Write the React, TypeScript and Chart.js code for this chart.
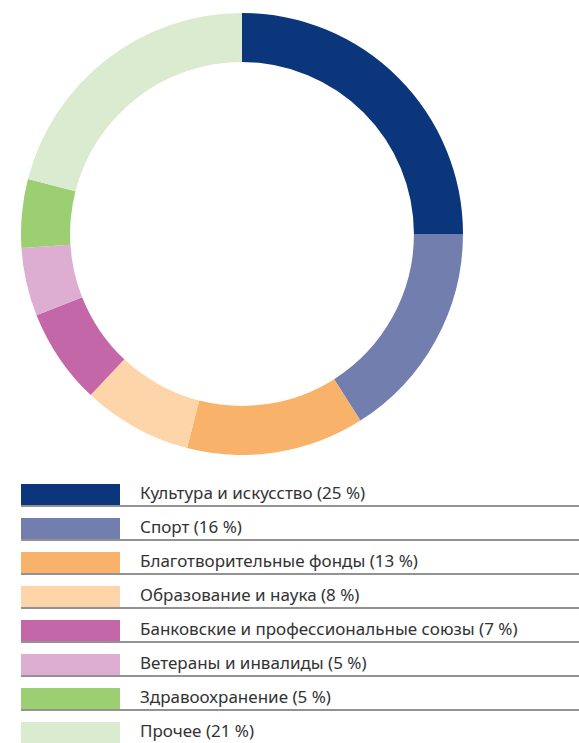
import React, { useEffect, useRef } from "react";
import { Chart, registerables } from "chart.js";

Chart.register(...registerables);

const categories = [
  "Культура и искусство",
  "Спорт",
  "Благотворительные фонды",
  "Образование и наука",
  "Банковские и профессиональные союзы",
  "Ветераны и инвалиды",
  "Здравоохранение",
  "Прочее",
];
const shares = [25, 16, 13, 8, 7, 5, 5, 21];
const colors = [
  "#0B367B",
  "#727EAE",
  "#F9B26A",
  "#FDD5A8",
  "#C467A8",
  "#DEAED2",
  "#9CCE72",
  "#DBEBCF",
];

export default function App() {
  const ref = useRef<HTMLCanvasElement | null>(null);

  useEffect(() => {
    document.body.style.margin = "0";
    if (!ref.current) return;
    const chart = new Chart(ref.current, {
      type: "doughnut",
      data: {
        labels: categories,
        datasets: [
          {
            data: shares,
            backgroundColor: colors,
            borderWidth: 0,
          },
        ],
      },
      options: {
        animation: false,
        responsive: false,
        cutout: "77.8%",
        layout: { padding: 0 },
        plugins: {
          legend: { display: false },
          tooltip: { enabled: false },
        },
      },
    });
    return () => chart.destroy();
  }, []);

  return (
    <div
      style={{
        position: "relative",
        width: 579,
        height: 743,
        overflow: "hidden",
        fontFamily: "'Noto Sans', sans-serif",
        background: "#fff",
      }}
    >
      <canvas
        ref={ref}
        width={442}
        height={442}
        style={{ position: "absolute", left: 21, top: 13, width: 442, height: 442 }}
      />
      {categories.map((c, i) => {
        const top = 484 + 34 * i;
        return (
          <div key={c}>
            <div
              style={{
                position: "absolute",
                left: 21,
                top,
                width: 99,
                height: 22,
                background: colors[i],
              }}
            />
            <div
              style={{
                position: "absolute",
                left: 21,
                top: top + 21,
                width: 558,
                height: 2,
                background: "#929292",
              }}
            />
            <div
              style={{
                position: "absolute",
                left: 140,
                top: top - 2.5,
                height: 22,
                lineHeight: "22px",
                fontSize: 17,
                color: "#333",
                whiteSpace: "nowrap",
              }}
            >
              {`${c} (${shares[i]} %)`}
            </div>
          </div>
        );
      })}
    </div>
  );
}
